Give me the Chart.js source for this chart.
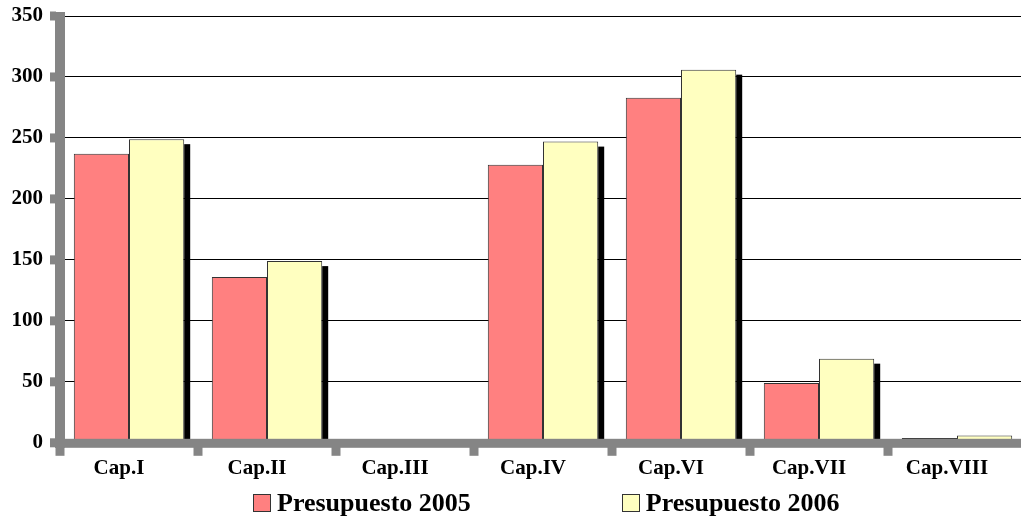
<!DOCTYPE html>
<html>
<head>
<meta charset="utf-8">
<script src="https://cdn.jsdelivr.net/npm/chart.js@4"></script>
<style>
    body { margin: 0; background: #fff; overflow: hidden; }
    .box-chart { position: relative; width: 1026px; height: 522px; }
    .legend { position: absolute; left: 253px; top: 490px; display: flex; align-items: center;
        font: bold 26px "Liberation Serif", "Times New Roman", serif; line-height: 26px; color: #000; }
    .legend .item { display: flex; align-items: center; }
    .legend .item + .item { margin-left: 151px; }
    .legend .sw { width: 16px; height: 16px; border: 1px solid #333; margin-right: 6px; }
</style>
</head>
<body>
<div class="box-chart">
    <canvas id="myChart"></canvas>
    <div class="legend" id="legend"></div>
</div>
<script>
const categories = ["Cap.I", "Cap.II", "Cap.III", "Cap.IV", "Cap.VI", "Cap.VII", "Cap.VIII"];
const seriesNames = ["Presupuesto 2005", "Presupuesto 2006"];
const presupuesto2005 = [237, 136, 0, 228, 283, 49, 4];
const presupuesto2006 = [249, 149, 0, 247, 306, 69, 6];
const yTicks = [0, 50, 100, 150, 200, 250, 300, 350];

const serif = "'Liberation Serif', 'Times New Roman', serif";
const axisGray = '#858585';

// black drop shadow on the right side of each bar
const barShadow = {
    id: 'barShadow',
    beforeDatasetsDraw(chart) {
        const ctx = chart.ctx;
        ctx.save();
        ctx.fillStyle = '#000';
        chart.data.datasets.forEach(function (ds, i) {
            chart.getDatasetMeta(i).data.forEach(function (bar) {
                const h = bar.base - bar.y - 5;
                if (h > 0) ctx.fillRect(bar.x + bar.width / 2, bar.y + 5, 6, h);
            });
        });
        ctx.restore();
    }
};

// thick gray axes with square tick stubs, drawn over the bars
const grayAxes = {
    id: 'grayAxes',
    afterDatasetsDraw(chart) {
        const ctx = chart.ctx;
        const a = chart.chartArea;
        const ys = chart.scales.y;
        const xs = chart.scales.x;
        ctx.save();
        ctx.fillStyle = axisGray;
        ctx.fillRect(a.left - 5, a.top - 4, 10, a.bottom - a.top + 9);
        ctx.fillRect(a.left - 5, a.bottom - 4, a.right - a.left + 5, 9);
        yTicks.forEach(function (v) {
            const py = ys.getPixelForValue(v);
            ctx.fillRect(a.left - 10, py - 4.5, 6, 9);
        });
        const step = (xs.right - xs.left) / categories.length;
        for (let i = 0; i <= categories.length; i++) {
            const px = xs.left + i * step;
            ctx.fillRect(px - 4.5, a.bottom + 4, 9, 9);
        }
        ctx.restore();
    }
};

const ctx = document.getElementById('myChart');

const chart = new Chart(ctx, {
    type: 'bar',
    data: {
        labels: categories,
        datasets: [{
            label: seriesNames[0],
            data: presupuesto2005,
            backgroundColor: '#FF8080',
            borderColor: '#333',
            borderWidth: 1
        }, {
            label: seriesNames[1],
            data: presupuesto2006,
            backgroundColor: '#FFFFC0',
            borderColor: '#333',
            borderWidth: 1
        }]
    },
    options: {
        responsive: true,
        maintainAspectRatio: false,
        animation: false,
        layout: { padding: { left: 12, top: 16, right: 0, bottom: 36 } },
        datasets: { bar: { categoryPercentage: 0.8, barPercentage: 1 } },
        plugins: {
            legend: { display: false },
            tooltip: { enabled: false }
        },
        scales: {
            x: {
                grid: { display: false },
                border: { display: false },
                ticks: {
                    color: '#000',
                    padding: 5,
                    labelOffset: -10,
                    maxRotation: 0,
                    font: { family: serif, size: 21, weight: 'bold' }
                }
            },
            y: {
                min: 0,
                max: 350,
                afterFit(scale) {
                    scale.width = 48;
                    scale.paddingTop = 0;
                    scale.paddingBottom = 0;
                },
                grid: { color: '#000', lineWidth: 1, drawTicks: false },
                border: { display: false },
                ticks: {
                    stepSize: 50,
                    color: '#000',
                    padding: 17,
                    font: { family: serif, size: 21, weight: 'bold' }
                }
            }
        }
    },
    plugins: [barShadow, grayAxes]
});

// legend built from the datasets
const legend = document.getElementById('legend');
chart.data.datasets.forEach(function (ds) {
    const item = document.createElement('div');
    item.className = 'item';
    const sw = document.createElement('span');
    sw.className = 'sw';
    sw.style.background = ds.backgroundColor;
    const txt = document.createElement('span');
    txt.textContent = ds.label;
    item.appendChild(sw);
    item.appendChild(txt);
    legend.appendChild(item);
});
</script>
</body>
</html>
